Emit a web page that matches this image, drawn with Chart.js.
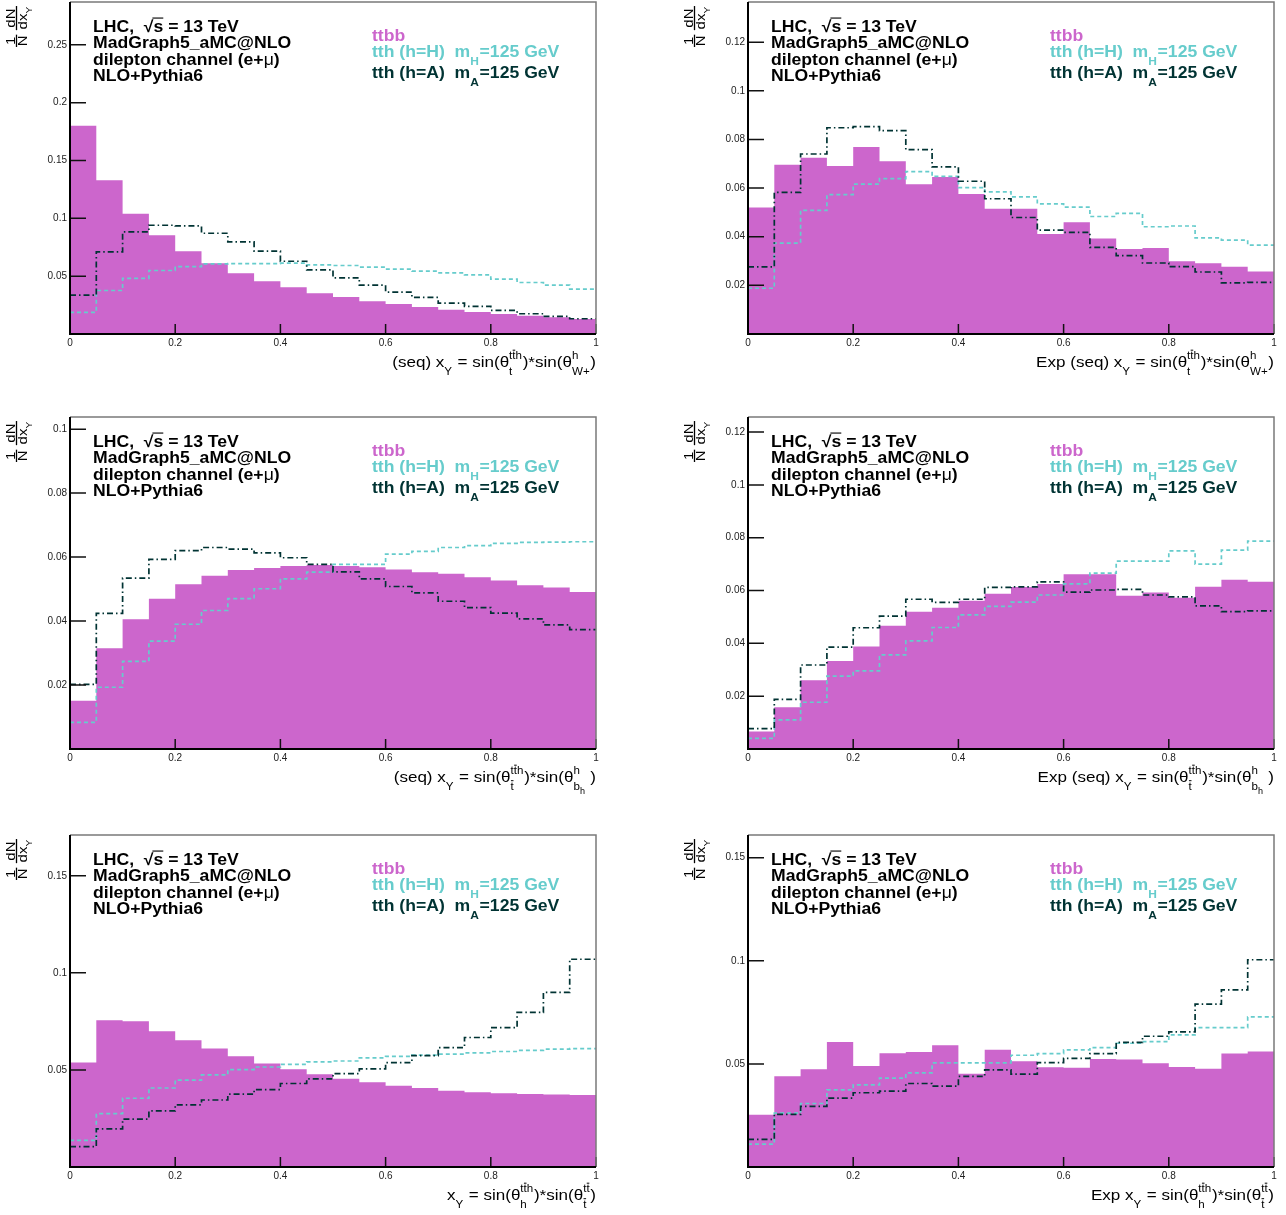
<!DOCTYPE html>
<html>
<head>
<meta charset="utf-8">
<title>x_Y distributions: ttbb vs tth</title>
<script src="https://cdn.jsdelivr.net/npm/chart.js@4.4.1/dist/chart.umd.min.js"></script>
<style>
  html, body { margin: 0; padding: 0; background: #fff; width: 1286px; height: 1215px; overflow: hidden; }
  .panel { position: absolute; }
  canvas { display: block; }
</style>
</head>
<body>
<div class="panel" style="left:0px;top:0px"><canvas id="c0" width="643" height="405"></canvas></div>
<div class="panel" style="left:678px;top:0px"><canvas id="c1" width="608" height="405"></canvas></div>
<div class="panel" style="left:0px;top:415px"><canvas id="c2" width="643" height="405"></canvas></div>
<div class="panel" style="left:678px;top:415px"><canvas id="c3" width="608" height="405"></canvas></div>
<div class="panel" style="left:0px;top:833px"><canvas id="c4" width="643" height="382"></canvas></div>
<div class="panel" style="left:678px;top:833px"><canvas id="c5" width="608" height="382"></canvas></div>
<script>
// ---- binning: 20 bins on [0, 1] ----
const binEdges = [0, 0.05, 0.1, 0.15, 0.2, 0.25, 0.3, 0.35, 0.4, 0.45, 0.5,
                  0.55, 0.6, 0.65, 0.7, 0.75, 0.8, 0.85, 0.9, 0.95, 1];

// ---- (seq) x_Y, t / W+ ----
const ttbbSeqW = [0.180, 0.133, 0.104, 0.0853, 0.0716, 0.0612, 0.0526, 0.0457, 0.0405, 0.0353,
                  0.0319, 0.0284, 0.0259, 0.0233, 0.0210, 0.0190, 0.0172, 0.0158, 0.0144, 0.0129];
const tthHSeqW = [0.0187, 0.0376, 0.0480, 0.0549, 0.0583, 0.0606, 0.0609, 0.0609, 0.0612, 0.0598,
                  0.0592, 0.0578, 0.0560, 0.0543, 0.0529, 0.0511, 0.0474, 0.0445, 0.0422, 0.0388];
const tthASeqW = [0.0336, 0.0710, 0.0882, 0.0940, 0.0934, 0.0871, 0.0796, 0.0716, 0.0629, 0.0555,
                  0.0486, 0.0422, 0.0362, 0.0316, 0.0267, 0.0239, 0.0204, 0.0175, 0.0152, 0.0132];

// ---- Exp (seq) x_Y, t / W+ ----
const ttbbExpSeqW = [0.0520, 0.0696, 0.0725, 0.0691, 0.0769, 0.0710, 0.0616, 0.0646, 0.0576, 0.0515,
                     0.0515, 0.0411, 0.0459, 0.0393, 0.0349, 0.0354, 0.0299, 0.0291, 0.0276, 0.0257];
const tthHExpSeqW = [0.0188, 0.0374, 0.0508, 0.0573, 0.0616, 0.0639, 0.0668, 0.0648, 0.0602, 0.0584,
                     0.0564, 0.0535, 0.0522, 0.0483, 0.0496, 0.0441, 0.0444, 0.0395, 0.0386, 0.0365];
const tthAExpSeqW = [0.0276, 0.0582, 0.0740, 0.0848, 0.0853, 0.0836, 0.0758, 0.0687, 0.0628, 0.0556,
                     0.0479, 0.0427, 0.0418, 0.0356, 0.0322, 0.0292, 0.0277, 0.0255, 0.0210, 0.0212];

// ---- (seq) x_Y, tbar / b_h ----
const ttbbSeqB = [0.0151, 0.0315, 0.0406, 0.0470, 0.0515, 0.0542, 0.0560, 0.0566, 0.0572, 0.0575,
                  0.0572, 0.0568, 0.0561, 0.0553, 0.0548, 0.0537, 0.0527, 0.0512, 0.0505, 0.0491];
const tthHSeqB = [0.0083, 0.0193, 0.0274, 0.0337, 0.0390, 0.0433, 0.0470, 0.0501, 0.0532, 0.0553,
                  0.0577, 0.0577, 0.0609, 0.0618, 0.0630, 0.0636, 0.0643, 0.0646, 0.0647, 0.0648];
const tthASeqB = [0.0202, 0.0424, 0.0534, 0.0593, 0.0620, 0.0630, 0.0625, 0.0613, 0.0598, 0.0577,
                  0.0554, 0.0532, 0.0508, 0.0488, 0.0462, 0.0442, 0.0425, 0.0407, 0.0388, 0.0373];

// ---- Exp (seq) x_Y, tbar / b_h ----
const ttbbExpSeqB = [0.0066, 0.0158, 0.0260, 0.0333, 0.0388, 0.0467, 0.0520, 0.0535, 0.0561, 0.0588,
                     0.0613, 0.0625, 0.0662, 0.0662, 0.0580, 0.0593, 0.0573, 0.0614, 0.0641, 0.0633];
const tthHExpSeqB = [0.0040, 0.0110, 0.0177, 0.0276, 0.0296, 0.0356, 0.0409, 0.0460, 0.0508, 0.0540,
                     0.0556, 0.0583, 0.0625, 0.0666, 0.0711, 0.0711, 0.0750, 0.0700, 0.0753, 0.0787];
const tthAExpSeqB = [0.0077, 0.0188, 0.0318, 0.0386, 0.0459, 0.0503, 0.0567, 0.0555, 0.0567, 0.0612,
                     0.0614, 0.0633, 0.0594, 0.0602, 0.0604, 0.0583, 0.0576, 0.0542, 0.0520, 0.0523];

// ---- x_Y, h / tbar ----
const ttbbHT = [0.0538, 0.0756, 0.0751, 0.0699, 0.0653, 0.0610, 0.0570, 0.0533, 0.0503, 0.0478,
                0.0454, 0.0436, 0.0418, 0.0407, 0.0393, 0.0385, 0.0380, 0.0376, 0.0373, 0.0371];
const tthHHT = [0.0137, 0.0275, 0.0354, 0.0407, 0.0447, 0.0474, 0.0502, 0.0515, 0.0529, 0.0541,
                0.0546, 0.0562, 0.0570, 0.0576, 0.0581, 0.0588, 0.0595, 0.0601, 0.0607, 0.0610];
const tthAHT = [0.0105, 0.0196, 0.0247, 0.0289, 0.0320, 0.0345, 0.0375, 0.0399, 0.0430, 0.0454,
                0.0481, 0.0505, 0.0538, 0.0574, 0.0615, 0.0667, 0.0718, 0.0796, 0.0899, 0.1070];

// ---- Exp x_Y, h / tbar ----
const ttbbExpHT = [0.0253, 0.0440, 0.0474, 0.0606, 0.0490, 0.0552, 0.0558, 0.0590, 0.0452, 0.0568,
                   0.0513, 0.0484, 0.0481, 0.0524, 0.0521, 0.0503, 0.0485, 0.0476, 0.0550, 0.0560];
const tthHExpHT = [0.0111, 0.0261, 0.0308, 0.0374, 0.0398, 0.0431, 0.0456, 0.0505, 0.0505, 0.0505,
                   0.0542, 0.0550, 0.0568, 0.0579, 0.0600, 0.0608, 0.0641, 0.0676, 0.0676, 0.0728];
const tthAExpHT = [0.0134, 0.0255, 0.0294, 0.0334, 0.0360, 0.0368, 0.0405, 0.0392, 0.0439, 0.0471,
                   0.0450, 0.0506, 0.0527, 0.0550, 0.0604, 0.0634, 0.0655, 0.0790, 0.0859, 0.1005];

// ---- axis ticks ----
const xTickValues = [0, 0.2, 0.4, 0.6, 0.8, 1];

// ---- styling ----
const FONT = '"Liberation Sans", Arial, Helvetica, sans-serif';
const C_TTBB = '#cc66cc';
const C_H = '#66cccc';
const C_A = '#003333';

// Axis titles as rich-text token lists (sub/superscripts, overbars)
const TITLE_SEQ_W = [{t: '(seq) x'}, {sub: 'Y'}, {t: ' = sin(θ'}, {sup: 'tth', supBar: [1], sub: 't'},
                     {t: ')*sin(θ'}, {sup: 'h', sub: 'W+'}, {t: ')'}];
const TITLE_EXP_SEQ_W = [{t: 'Exp (seq) x'}].concat(TITLE_SEQ_W.slice(1));
const TITLE_SEQ_B = [{t: '(seq) x'}, {sub: 'Y'}, {t: ' = sin(θ'}, {sup: 'tth', supBar: [1], sub: 't', subBar: [0]},
                     {t: ')*sin(θ'}, {sup: 'h', sub: 'b', subsub: 'h'}, {t: ' )'}];
const TITLE_EXP_SEQ_B = [{t: 'Exp (seq) x'}].concat(TITLE_SEQ_B.slice(1));
const TITLE_HT = [{t: 'x'}, {sub: 'Y'}, {t: ' = sin(θ'}, {sup: 'tth', supBar: [1], sub: 'h'},
                  {t: ')*sin(θ'}, {sup: 'tt', supBar: [1], sub: 't', subBar: [0]}, {t: ')'}];
const TITLE_EXP_HT = [{t: 'Exp x'}].concat(TITLE_HT.slice(1));

const INFO_LINES = [
  [{t: 'LHC,  '}, {t: '√'}, {t: 's', over: true}, {t: ' = 13 TeV'}],
  [{t: 'MadGraph5_aMC@NLO'}],
  [{t: 'dilepton channel (e+'}, {t: 'μ', weight: 'normal'}, {t: ')'}],
  [{t: 'NLO+Pythia6'}]
];
const LEGEND_LINES = [
  {tokens: [{t: 'ttbb'}], color: C_TTBB},
  {tokens: [{t: 'tth (h=H)  m'}, {sub: 'H'}, {t: '=125 GeV'}], color: C_H},
  {tokens: [{t: 'tth (h=A)  m'}, {sub: 'A'}, {t: '=125 GeV'}], color: C_A}
];

const panels = [
  {id: 'c0', ttbb: ttbbSeqW,    H: tthHSeqW,    A: tthASeqW,    yMax: 0.287,  yStep: 0.05, title: TITLE_SEQ_W},
  {id: 'c1', ttbb: ttbbExpSeqW, H: tthHExpSeqW, A: tthAExpSeqW, yMax: 0.1365, yStep: 0.02, title: TITLE_EXP_SEQ_W},
  {id: 'c2', ttbb: ttbbSeqB,    H: tthHSeqB,    A: tthASeqB,    yMax: 0.1038, yStep: 0.02, title: TITLE_SEQ_B},
  {id: 'c3', ttbb: ttbbExpSeqB, H: tthHExpSeqB, A: tthAExpSeqB, yMax: 0.1257, yStep: 0.02, title: TITLE_EXP_SEQ_B},
  {id: 'c4', ttbb: ttbbHT,      H: tthHHT,      A: tthAHT,      yMax: 0.1710, yStep: 0.05, title: TITLE_HT},
  {id: 'c5', ttbb: ttbbExpHT,   H: tthHExpHT,   A: tthAExpHT,   yMax: 0.1610, yStep: 0.05, title: TITLE_EXP_HT}
];

const fmt = v => String(Math.round(v * 10000) / 10000);

// Draw a line of text with sub/superscripts, overlines and bars
function richDraw(ctx, tokens, x, y, o) {
  const S = o.size, s = S * 0.68, wt = o.weight || 'normal';
  const fN = w => `${w || wt} ${S}px ${FONT}`;
  const fS = `${wt} ${s}px ${FONT}`;
  const fSS = `${wt} ${(s * 0.78).toFixed(2)}px ${FONT}`;
  const subDy = S * (o.subDy || 0.5), supDy = -S * (o.supDy || 0.5);
  const meas = (f, str) => { ctx.font = f; return ctx.measureText(str).width; };
  let w = 0;
  const ops = [];
  tokens.forEach(tk => {
    if (tk.t !== undefined) {
      const f = fN(tk.weight);
      ops.push({f, str: tk.t, x: w, dy: 0, over: tk.over, size: S});
      w += meas(f, tk.t);
    } else {
      let sw = 0;
      if (tk.sup) {
        ops.push({f: fS, str: tk.sup, x: w, dy: supDy, bar: tk.supBar, size: s});
        sw = Math.max(sw, meas(fS, tk.sup));
      }
      if (tk.sub) {
        const tw = meas(fS, tk.sub);
        ops.push({f: fS, str: tk.sub, x: w, dy: subDy, bar: tk.subBar, size: s});
        let tot = tw;
        if (tk.subsub) {
          ops.push({f: fSS, str: tk.subsub, x: w + tw, dy: subDy + s * 0.4, size: s * 0.78});
          tot += meas(fSS, tk.subsub);
        }
        sw = Math.max(sw, tot);
      }
      w += sw + S * 0.04;
    }
  });
  ctx.save();
  ctx.translate(x, y);
  ctx.scale(o.sx || 1, 1);
  const x0 = o.align === 'right' ? -w : 0;
  ctx.fillStyle = o.color;
  ctx.strokeStyle = o.color;
  ctx.textAlign = 'left';
  ctx.textBaseline = 'alphabetic';
  ops.forEach(op => {
    ctx.font = op.f;
    ctx.fillText(op.str, x0 + op.x, op.dy);
    ctx.lineWidth = Math.max(1, op.size * 0.07);
    if (op.over) {
      const tw = ctx.measureText(op.str).width;
      const yy = op.dy - op.size * 0.84;
      ctx.beginPath(); ctx.moveTo(x0 + op.x - 1, yy); ctx.lineTo(x0 + op.x + tw, yy); ctx.stroke();
    }
    if (op.bar) {
      op.bar.forEach(i => {
        const a = ctx.measureText(op.str.slice(0, i)).width;
        const b = ctx.measureText(op.str.slice(0, i + 1)).width;
        const yy = op.dy - op.size * 0.86;
        ctx.beginPath(); ctx.moveTo(x0 + op.x + a + 0.3, yy); ctx.lineTo(x0 + op.x + b - 0.3, yy); ctx.stroke();
      });
    }
  });
  ctx.restore();
}

// Rotated y-axis title: 1/N dN/dx_Y as two stacked fractions
function drawYTitle(ctx, xBar, yBottom, S, squeeze) {
  ctx.save();
  ctx.translate(xBar, yBottom);
  ctx.rotate(-Math.PI / 2);
  ctx.scale(1, squeeze);
  ctx.fillStyle = '#000';
  ctx.strokeStyle = '#000';
  ctx.lineWidth = 1.6;
  ctx.textBaseline = 'alphabetic';
  ctx.textAlign = 'left';
  const f = `normal ${S}px ${FONT}`, fs = `normal ${S * 0.68}px ${FONT}`;
  ctx.font = f;
  const gapUp = S * 0.14, gapDn = S * 0.86;
  // 1/N
  const w1n = ctx.measureText('1').width, w1d = ctx.measureText('N').width;
  const w1 = Math.max(w1n, w1d) + S * 0.1;
  ctx.fillText('1', (w1 - w1n) / 2, -gapUp);
  ctx.fillText('N', (w1 - w1d) / 2, gapDn);
  ctx.beginPath(); ctx.moveTo(0, 0); ctx.lineTo(w1, 0); ctx.stroke();
  // dN/dx_Y
  const x2 = w1 + S * 0.3;
  const w2n = ctx.measureText('dN').width;
  const wdx = ctx.measureText('dx').width;
  ctx.font = fs;
  const wY = ctx.measureText('Y').width;
  const w2d = wdx + wY;
  const w2 = Math.max(w2n, w2d) + S * 0.1;
  ctx.font = f;
  ctx.fillText('dN', x2 + (w2 - w2n) / 2, -gapUp);
  ctx.fillText('dx', x2 + (w2 - w2d) / 2, gapDn);
  ctx.font = fs;
  ctx.fillText('Y', x2 + (w2 - w2d) / 2 + wdx, gapDn + S * 0.42);
  ctx.beginPath(); ctx.moveTo(x2, 0); ctx.lineTo(x2 + w2, 0); ctx.stroke();
  ctx.restore();
}

// Frame, inside ticks and annotation texts drawn on top of the histograms
function rootStyle(p) {
  return {
    id: 'rootStyle',
    afterDatasetsDraw(chart) {
      const {ctx, chartArea: a, scales: {x, y}} = chart;
      ctx.save();
      ctx.strokeStyle = '#111';
      ctx.lineWidth = 1.5;
      ctx.beginPath();
      y.ticks.forEach(t => {
        const py = y.getPixelForValue(t.value);
        ctx.moveTo(a.left, py); ctx.lineTo(a.left + 16, py);
      });
      x.ticks.forEach(t => {
        const px = x.getPixelForValue(t.value);
        ctx.moveTo(px, a.bottom); ctx.lineTo(px, a.bottom - 10);
      });
      ctx.stroke();
      ctx.strokeStyle = '#7a7a7a';
      ctx.lineWidth = 1.5;
      ctx.beginPath();
      ctx.moveTo(a.left, a.top); ctx.lineTo(a.right, a.top); ctx.lineTo(a.right, a.bottom);
      ctx.stroke();
      ctx.strokeStyle = '#000';
      ctx.lineWidth = 2;
      ctx.beginPath();
      ctx.moveTo(a.left, a.top); ctx.lineTo(a.left, a.bottom); ctx.lineTo(a.right, a.bottom);
      ctx.stroke();
      ctx.restore();
    },
    afterDraw(chart) {
      const {ctx, chartArea: a} = chart;
      // info block
      INFO_LINES.forEach((line, i) => {
        richDraw(ctx, line, a.left + 23, a.top + 29.5 + i * 16.6,
                 {size: 16, weight: 'bold', color: '#000', sx: 1.1});
      });
      // legend block
      const legY = [38.5, 55, 76];
      LEGEND_LINES.forEach((ln, i) => {
        richDraw(ctx, ln.tokens, a.left + 302, a.top + legY[i],
                 {size: 16, weight: 'bold', color: ln.color, sx: 1.1, subDy: 0.5});
      });
      // axis titles
      richDraw(ctx, p.title, a.right, a.bottom + 33, {size: 15.5, color: '#000', align: 'right', sx: 1.1});
      drawYTitle(ctx, 16.5, a.top + 45, 15, 0.82);
    }
  };
}

function histPoints(vals) {
  const pts = vals.map((v, i) => ({x: binEdges[i], y: v}));
  pts.push({x: binEdges[vals.length], y: vals[vals.length - 1]});
  return pts;
}

panels.forEach(p => {
  const canvas = document.getElementById(p.id);
  const W = canvas.width, H = canvas.height;
  const padRight = W - 596;
  new Chart(canvas, {
    type: 'line',
    data: {
      datasets: [
        {label: 'tth (h=A)', data: histPoints(p.A), stepped: 'before', borderColor: C_A, borderWidth: 1.7,
         borderDash: [6, 3, 1.5, 3], fill: false, pointRadius: 0, order: 0},
        {label: 'tth (h=H)', data: histPoints(p.H), stepped: 'before', borderColor: C_H, borderWidth: 1.7,
         borderDash: [4, 3], fill: false, pointRadius: 0, order: 1},
        {label: 'ttbb', data: histPoints(p.ttbb), stepped: 'before', borderColor: C_TTBB, borderWidth: 0,
         backgroundColor: C_TTBB, fill: 'origin', pointRadius: 0, order: 2}
      ]
    },
    options: {
      responsive: false,
      animation: false,
      devicePixelRatio: 1,
      events: [],
      layout: {padding: {top: 2, right: padRight, bottom: 0, left: 0}},
      plugins: {legend: {display: false}, tooltip: {enabled: false}},
      scales: {
        x: {
          type: 'linear', min: 0, max: 1,
          afterBuildTicks: s => { s.ticks = xTickValues.map(v => ({value: v})); },
          ticks: {font: {family: FONT, size: 10}, color: '#222', padding: 3, maxRotation: 0,
                  autoSkip: false, callback: v => fmt(v)},
          grid: {display: false, drawTicks: false},
          border: {display: false},
          afterFit: s => { s.height = H - 334; s.paddingLeft = 0; s.paddingRight = 0; }
        },
        y: {
          type: 'linear', min: 0, max: p.yMax,
          ticks: {stepSize: p.yStep, includeBounds: false, font: {family: FONT, size: 10}, color: '#222',
                  padding: 3, callback: v => (v === 0 ? '' : fmt(v))},
          grid: {display: false, drawTicks: false},
          border: {display: false},
          afterFit: s => { s.width = 70; s.paddingTop = 0; s.paddingBottom = 0; }
        }
      }
    },
    plugins: [rootStyle(p)]
  });
});
</script>
</body>
</html>
